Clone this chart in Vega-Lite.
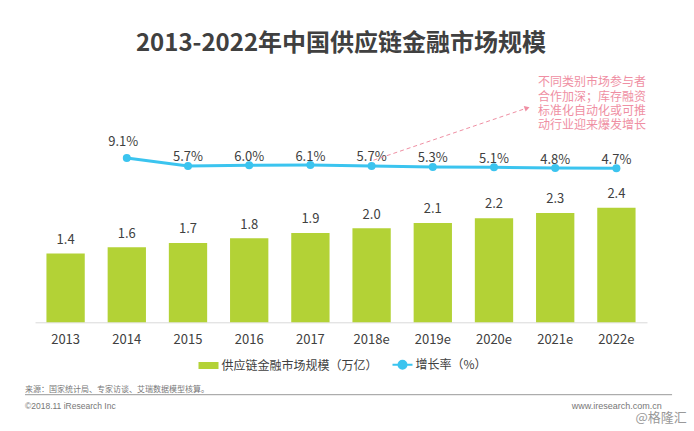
{
  "$schema": "https://vega.github.io/schema/vega-lite/v6.json",
  "width": 612,
  "height": 252,
  "autosize": {"type": "none"},
  "padding": {"left": 35, "top": 70.3, "right": 47, "bottom": 108.7},
  "background": "#ffffff",
  "config": {"view": {"stroke": null}, "font": "Noto Sans CJK SC"},
  "title": {"text": "2013-2022年中国供应链金融市场规模", "font": "Noto Sans CJK SC", "fontSize": 24, "fontWeight": "bold", "color": "#404040", "anchor": "middle", "frame": "group", "baseline": "alphabetic", "offset": -5},
  "datasets": {
    "main": [
      {"year": "2013", "size": 1.44, "rate": null},
      {"year": "2014", "size": 1.57, "rate": 0.091},
      {"year": "2015", "size": 1.66, "rate": 0.057},
      {"year": "2016", "size": 1.76, "rate": 0.060},
      {"year": "2017", "size": 1.87, "rate": 0.061},
      {"year": "2018e", "size": 1.97, "rate": 0.057},
      {"year": "2019e", "size": 2.08, "rate": 0.053},
      {"year": "2020e", "size": 2.18, "rate": 0.051},
      {"year": "2021e", "size": 2.29, "rate": 0.048},
      {"year": "2022e", "size": 2.40, "rate": 0.047}
    ]
  },
  "data": {"name": "main"},
  "encoding": {
    "x": {
      "field": "year", "type": "nominal", "sort": null,
      "scale": {"domain": ["2013", "2014", "2015", "2016", "2017", "2018e", "2019e", "2020e", "2021e", "2022e"], "paddingInner": 0.374, "paddingOuter": 0.187},
      "axis": {"title": null, "domainColor": "#d9d9d9", "domainWidth": 1, "ticks": false, "grid": false, "labelAngle": 0, "labelFont": "Noto Sans CJK SC", "labelFontSize": 13, "labelColor": "#404040", "labelPadding": 11}
    }
  },
  "layer": [
    {
      "layer": [
        {
          "mark": {"type": "bar"},
          "encoding": {
            "y": {"field": "size", "type": "quantitative", "scale": {"domain": [0, 5.277], "nice": false, "zero": false}, "axis": null},
            "color": {
              "datum": "供应链金融市场规模（万亿）", "type": "nominal",
              "scale": {"domain": ["供应链金融市场规模（万亿）", "增长率（%）"], "range": ["#b3d236", "#3bc4ef"]},
              "legend": {
                "orient": "none", "legendX": 162.5, "legendY": 283.5, "direction": "horizontal", "title": null,
                "padding": 0, "symbolSize": 400, "labelFont": "Noto Sans CJK SC", "labelFontSize": 12, "labelColor": "#404040",
                "labelOffset": 2, "columnPadding": 10,
                "encode": {"symbols": {"update": {
                  "shape": {"signal": "datum.value === '增长率（%）' ? 'M-1,0H-0.4M0.4,0H1M-0.4,0A0.4,0.4,0,1,1,0.4,0A0.4,0.4,0,1,1,-0.4,0' : 'M-0.9,-0.25H0.9V0.25H-0.9Z'"},
                  "fill": {"signal": "datum.value === '增长率（%）' ? '#3bc4ef' : '#b3d236'"},
                  "stroke": {"signal": "datum.value === '增长率（%）' ? '#3bc4ef' : 'transparent'"},
                  "strokeWidth": {"value": 2},
                  "opacity": {"value": 1},
                  "fillOpacity": {"value": 1},
                  "strokeOpacity": {"value": 1},
                  "size": {"value": 400}
                }}}
              }
            }
          }
        },
        {
          "mark": {"type": "text", "baseline": "alphabetic", "dy": -9.7, "fontSize": 13, "color": "#404040", "font": "Noto Sans CJK SC"},
          "encoding": {
            "y": {"field": "size", "type": "quantitative"},
            "text": {"field": "size", "type": "quantitative", "format": ".1f"}
          }
        },
        {
          "data": {"values": [{"year": "2013", "note": "来源：国家统计局、专家访谈、艾瑞数据模型核算。"}]},
          "mark": {"type": "text", "align": "left", "baseline": "middle", "fontSize": 8, "color": "#777777", "font": "Noto Sans CJK SC"},
          "encoding": {
            "x": {"field": "year", "type": "nominal", "bandPosition": -0.56},
            "y": {"datum": -1.418, "type": "quantitative"},
            "text": {"field": "note"}
          }
        },
        {
          "data": {"values": [{"year": "2013", "year2": "2022e"}]},
          "mark": {"type": "rule", "color": "#999999", "strokeWidth": 1},
          "encoding": {
            "x": {"field": "year", "type": "nominal", "bandPosition": -0.56},
            "x2": {"field": "year2", "bandPosition": 1.953},
            "y": {"datum": -1.516, "type": "quantitative"}
          }
        },
        {
          "data": {"values": [{"year": "2013", "note": "©2018.11 iResearch Inc"}]},
          "mark": {"type": "text", "align": "left", "baseline": "middle", "fontSize": 8.5, "color": "#777777", "font": "Liberation Sans"},
          "encoding": {
            "x": {"field": "year", "type": "nominal", "bandPosition": -0.56},
            "y": {"datum": -1.747, "type": "quantitative"},
            "text": {"field": "note"}
          }
        },
        {
          "data": {"values": [{"year": "2022e", "note": "www.iresearch.com.cn"}]},
          "mark": {"type": "text", "align": "right", "baseline": "middle", "fontSize": 9, "color": "#777777", "font": "Liberation Sans"},
          "encoding": {
            "x": {"field": "year", "type": "nominal", "bandPosition": 1.683},
            "y": {"datum": -1.745, "type": "quantitative"},
            "text": {"field": "note"}
          }
        },
        {
          "data": {"values": [{"year": "2022e", "note": "@格隆汇"}]},
          "mark": {"type": "text", "align": "right", "baseline": "middle", "fontSize": 13, "color": "#999999", "font": "Noto Sans CJK SC"},
          "encoding": {
            "x": {"field": "year", "type": "nominal", "bandPosition": 2.336},
            "y": {"datum": -2.003, "type": "quantitative"},
            "text": {"field": "note"}
          }
        }
      ]
    },
    {
      "layer": [
        {
          "transform": [{"filter": "isValid(datum.rate)"}],
          "mark": {"type": "line", "strokeWidth": 3},
          "encoding": {
            "y": {"field": "rate", "type": "quantitative", "scale": {"domain": [-0.6111, 0.4658], "nice": false, "zero": false}, "axis": null},
            "color": {"datum": "增长率（%）", "type": "nominal"}
          }
        },
        {
          "transform": [{"filter": "isValid(datum.rate)"}],
          "mark": {"type": "point", "filled": true, "size": 64, "opacity": 1, "color": "#3bc4ef"},
          "encoding": {"y": {"field": "rate", "type": "quantitative"}}
        },
        {
          "transform": [{"filter": "isValid(datum.rate) && datum.year !== '2014'"}],
          "mark": {"type": "text", "baseline": "alphabetic", "dy": -4.5, "fontSize": 13, "color": "#404040", "font": "Noto Sans CJK SC"},
          "encoding": {
            "y": {"field": "rate", "type": "quantitative"},
            "text": {"field": "rate", "type": "quantitative", "format": ".1%"}
          }
        },
        {
          "transform": [{"filter": "datum.year === '2014'"}],
          "mark": {"type": "text", "baseline": "alphabetic", "dy": -12.3, "dx": -3.5, "fontSize": 13, "color": "#404040", "font": "Noto Sans CJK SC"},
          "encoding": {
            "y": {"field": "rate", "type": "quantitative"},
            "text": {"field": "rate", "type": "quantitative", "format": ".1%"}
          }
        },
        {
          "data": {"values": [{"year": "2018e", "year2": "2020e"}]},
          "mark": {"type": "rule", "strokeDash": [4, 3], "color": "#ef8fa3", "strokeWidth": 1},
          "encoding": {
            "x": {"field": "year", "type": "nominal", "bandPosition": 0.55},
            "x2": {"field": "year2", "bandPosition": 1.364},
            "y": {"datum": 0.0816, "type": "quantitative"},
            "y2": {"datum": 0.3047}
          }
        },
        {
          "data": {"values": [{"year": "2020e"}]},
          "mark": {"type": "point", "shape": "triangle-right", "angle": 341.3, "filled": true, "size": 35, "opacity": 1, "color": "#ef8fa3"},
          "encoding": {
            "x": {"field": "year", "type": "nominal", "bandPosition": 1.364},
            "y": {"datum": 0.3047, "type": "quantitative"}
          }
        },
        {
          "data": {"values": [{"year": "2021e", "note": "不同类别市场参与者\n合作加深；库存融资\n标准化自动化或可推\n动行业迎来爆发增长"}]},
          "mark": {"type": "text", "align": "left", "baseline": "top", "lineBreak": "\n", "lineHeight": 14.4, "fontSize": 12, "color": "#ef8fa3", "font": "Noto Sans CJK SC"},
          "encoding": {
            "x": {"field": "year", "type": "nominal", "bandPosition": 0.05},
            "y": {"datum": 0.4365, "type": "quantitative"},
            "text": {"field": "note"}
          }
        }
      ]
    }
  ],
  "resolve": {"scale": {"y": "independent"}}
}
